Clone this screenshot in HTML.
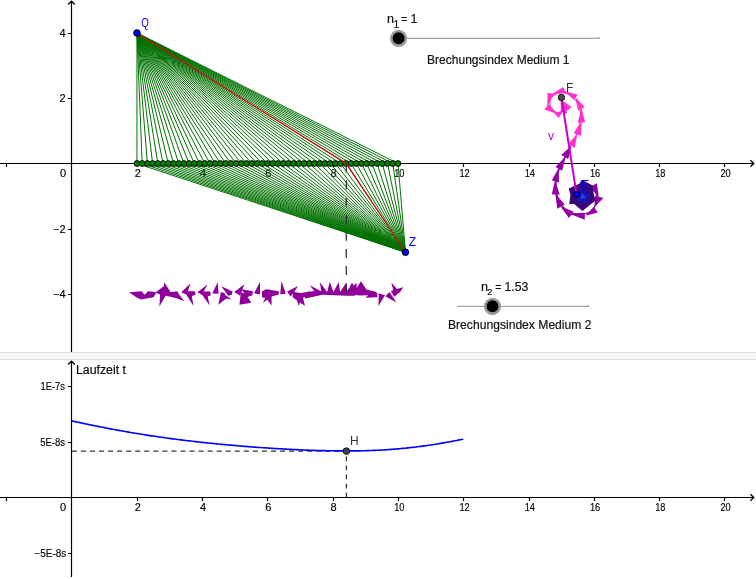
<!DOCTYPE html>
<html><head><meta charset="utf-8"><style>
html,body{margin:0;padding:0;background:#fff;width:756px;height:579px;overflow:hidden}
svg{display:block;will-change:transform}
</style></head><body>
<svg width="756" height="579" viewBox="0 0 756 579">
<g stroke="#000" fill="none" stroke-width="1.2">
<path d="M0 163.5 H753.2"/>
<path d="M750.4 160.2 L753.7 163.5 L750.4 166.8" stroke-width="1.35"/>
<path d="M71.5 1.5 V352"/>
<path d="M68.2 4.6 L71.5 1.3 L74.8 4.6" stroke-width="1.35"/>
<path d="M6.5 163.5 V167M137.5 163.5 V167M202.5 163.5 V167M267.5 163.5 V167M333.5 163.5 V167M398.5 163.5 V167M463.5 163.5 V167M529.5 163.5 V167M594.5 163.5 V167M659.5 163.5 V167M724.5 163.5 V167M68 33.5 H71.5M68 98.5 H71.5M68 229.5 H71.5M68 294.5 H71.5"/>
</g>
<g font-family='"Liberation Sans", sans-serif' font-size="11" fill="#000" stroke="#000" stroke-width="0.15" text-anchor="middle">
<text x="137.76" y="177">2</text>
<text x="203.02" y="177">4</text>
<text x="268.28" y="177">6</text>
<text x="333.54" y="177">8</text>
<text x="399.3" y="177" textLength="10.3" lengthAdjust="spacingAndGlyphs">10</text>
<text x="464.56" y="177" textLength="10.3" lengthAdjust="spacingAndGlyphs">12</text>
<text x="529.82" y="177" textLength="10.3" lengthAdjust="spacingAndGlyphs">14</text>
<text x="595.08" y="177" textLength="10.3" lengthAdjust="spacingAndGlyphs">16</text>
<text x="660.34" y="177" textLength="10.3" lengthAdjust="spacingAndGlyphs">18</text>
<text x="725.6" y="177" textLength="10.3" lengthAdjust="spacingAndGlyphs">20</text>
<text x="63" y="177">0</text>
</g>
<g font-family='"Liberation Sans", sans-serif' font-size="11" fill="#000" stroke="#000" stroke-width="0.15" text-anchor="end">
<text x="65.5" y="36.98">4</text>
<text x="65.5" y="102.24">2</text>
<text x="65.5" y="232.76">−2</text>
<text x="65.5" y="298.02">−4</text>
</g>
<path d="M136.96 32.98L136.96 163.5M136.96 163.5L405.5 252.25M136.96 32.98L142.18 163.5M142.18 163.5L405.5 252.25M136.96 32.98L147.4 163.5M147.4 163.5L405.5 252.25M136.96 32.98L152.62 163.5M152.62 163.5L405.5 252.25M136.96 32.98L157.84 163.5M157.84 163.5L405.5 252.25M136.96 32.98L163.06 163.5M163.06 163.5L405.5 252.25M136.96 32.98L168.28 163.5M168.28 163.5L405.5 252.25M136.96 32.98L173.51 163.5M173.51 163.5L405.5 252.25M136.96 32.98L178.73 163.5M178.73 163.5L405.5 252.25M136.96 32.98L183.95 163.5M183.95 163.5L405.5 252.25M136.96 32.98L189.17 163.5M189.17 163.5L405.5 252.25M136.96 32.98L194.39 163.5M194.39 163.5L405.5 252.25M136.96 32.98L199.61 163.5M199.61 163.5L405.5 252.25M136.96 32.98L204.83 163.5M204.83 163.5L405.5 252.25M136.96 32.98L210.05 163.5M210.05 163.5L405.5 252.25M136.96 32.98L215.27 163.5M215.27 163.5L405.5 252.25M136.96 32.98L220.49 163.5M220.49 163.5L405.5 252.25M136.96 32.98L225.71 163.5M225.71 163.5L405.5 252.25M136.96 32.98L230.93 163.5M230.93 163.5L405.5 252.25M136.96 32.98L236.16 163.5M236.16 163.5L405.5 252.25M136.96 32.98L241.38 163.5M241.38 163.5L405.5 252.25M136.96 32.98L246.6 163.5M246.6 163.5L405.5 252.25M136.96 32.98L251.82 163.5M251.82 163.5L405.5 252.25M136.96 32.98L257.04 163.5M257.04 163.5L405.5 252.25M136.96 32.98L262.26 163.5M262.26 163.5L405.5 252.25M136.96 32.98L267.48 163.5M267.48 163.5L405.5 252.25M136.96 32.98L272.7 163.5M272.7 163.5L405.5 252.25M136.96 32.98L277.92 163.5M277.92 163.5L405.5 252.25M136.96 32.98L283.14 163.5M283.14 163.5L405.5 252.25M136.96 32.98L288.36 163.5M288.36 163.5L405.5 252.25M136.96 32.98L293.58 163.5M293.58 163.5L405.5 252.25M136.96 32.98L298.8 163.5M298.8 163.5L405.5 252.25M136.96 32.98L304.03 163.5M304.03 163.5L405.5 252.25M136.96 32.98L309.25 163.5M309.25 163.5L405.5 252.25M136.96 32.98L314.47 163.5M314.47 163.5L405.5 252.25M136.96 32.98L319.69 163.5M319.69 163.5L405.5 252.25M136.96 32.98L324.91 163.5M324.91 163.5L405.5 252.25M136.96 32.98L330.13 163.5M330.13 163.5L405.5 252.25M136.96 32.98L335.35 163.5M335.35 163.5L405.5 252.25M136.96 32.98L340.57 163.5M340.57 163.5L405.5 252.25M136.96 32.98L345.79 163.5M345.79 163.5L405.5 252.25M136.96 32.98L351.01 163.5M351.01 163.5L405.5 252.25M136.96 32.98L356.23 163.5M356.23 163.5L405.5 252.25M136.96 32.98L361.45 163.5M361.45 163.5L405.5 252.25M136.96 32.98L366.68 163.5M366.68 163.5L405.5 252.25M136.96 32.98L371.9 163.5M371.9 163.5L405.5 252.25M136.96 32.98L377.12 163.5M377.12 163.5L405.5 252.25M136.96 32.98L382.34 163.5M382.34 163.5L405.5 252.25M136.96 32.98L387.56 163.5M387.56 163.5L405.5 252.25M136.96 32.98L392.78 163.5M392.78 163.5L405.5 252.25M136.96 32.98L398 163.5M398 163.5L405.5 252.25" stroke="#007000" stroke-width="1" fill="none"/>
<g fill="#008000" stroke="#000" stroke-width="0.9"><circle cx="136.96" cy="163.5" r="2.9"/><circle cx="142.18" cy="163.5" r="2.9"/><circle cx="147.4" cy="163.5" r="2.9"/><circle cx="152.62" cy="163.5" r="2.9"/><circle cx="157.84" cy="163.5" r="2.9"/><circle cx="163.06" cy="163.5" r="2.9"/><circle cx="168.28" cy="163.5" r="2.9"/><circle cx="173.51" cy="163.5" r="2.9"/><circle cx="178.73" cy="163.5" r="2.9"/><circle cx="183.95" cy="163.5" r="2.9"/><circle cx="189.17" cy="163.5" r="2.9"/><circle cx="194.39" cy="163.5" r="2.9"/><circle cx="199.61" cy="163.5" r="2.9"/><circle cx="204.83" cy="163.5" r="2.9"/><circle cx="210.05" cy="163.5" r="2.9"/><circle cx="215.27" cy="163.5" r="2.9"/><circle cx="220.49" cy="163.5" r="2.9"/><circle cx="225.71" cy="163.5" r="2.9"/><circle cx="230.93" cy="163.5" r="2.9"/><circle cx="236.16" cy="163.5" r="2.9"/><circle cx="241.38" cy="163.5" r="2.9"/><circle cx="246.6" cy="163.5" r="2.9"/><circle cx="251.82" cy="163.5" r="2.9"/><circle cx="257.04" cy="163.5" r="2.9"/><circle cx="262.26" cy="163.5" r="2.9"/><circle cx="267.48" cy="163.5" r="2.9"/><circle cx="272.7" cy="163.5" r="2.9"/><circle cx="277.92" cy="163.5" r="2.9"/><circle cx="283.14" cy="163.5" r="2.9"/><circle cx="288.36" cy="163.5" r="2.9"/><circle cx="293.58" cy="163.5" r="2.9"/><circle cx="298.8" cy="163.5" r="2.9"/><circle cx="304.03" cy="163.5" r="2.9"/><circle cx="309.25" cy="163.5" r="2.9"/><circle cx="314.47" cy="163.5" r="2.9"/><circle cx="319.69" cy="163.5" r="2.9"/><circle cx="324.91" cy="163.5" r="2.9"/><circle cx="330.13" cy="163.5" r="2.9"/><circle cx="335.35" cy="163.5" r="2.9"/><circle cx="340.57" cy="163.5" r="2.9"/><circle cx="345.79" cy="163.5" r="2.9"/><circle cx="351.01" cy="163.5" r="2.9"/><circle cx="356.23" cy="163.5" r="2.9"/><circle cx="361.45" cy="163.5" r="2.9"/><circle cx="366.68" cy="163.5" r="2.9"/><circle cx="371.9" cy="163.5" r="2.9"/><circle cx="377.12" cy="163.5" r="2.9"/><circle cx="382.34" cy="163.5" r="2.9"/><circle cx="387.56" cy="163.5" r="2.9"/><circle cx="392.78" cy="163.5" r="2.9"/><circle cx="398" cy="163.5" r="2.9"/></g>
<path d="M136.96 32.98 L346.35 163.5 L405.5 252.25" stroke="#d01010" stroke-width="1.25" fill="none"/>
<circle cx="136.96" cy="32.98" r="3.3" fill="#0000ff" stroke="#000" stroke-width="1"/>
<circle cx="405.5" cy="252.25" r="3.3" fill="#0000ff" stroke="#000" stroke-width="1"/>
<g font-family='"Liberation Sans", sans-serif' font-size="12" fill="#0000ff">
<text x="141.3" y="26.6" textLength="7.6" lengthAdjust="spacingAndGlyphs">Q</text>
<text x="408.8" y="245.8">Z</text>
</g>
<g fill="#8f009b"><polygon points="128.97,292.22 142.2,291.23 142.99,293.08 144.84,294.87 146.83,292.22 147.82,291.23 155.42,291.89 156.08,293.21 153.44,297.18 140.87,299.49 136.24,297.18"/><polygon points="164.35,282.3 170.63,292.22 175,291.89 175,297.84 165.67,295.86 159.39,306.44 160.05,294.53 155.42,292.55 164.02,285.94"/><polygon points="170,292.22 177.28,291.23 179.26,294.53 184.22,301.15 170,295.86"/><polygon points="190.5,283.29 187.86,291.23 194.8,291.23 195.79,294.53 191.83,296.19 193.48,306.11 186.2,294.53 181.24,292.22"/><polygon points="207.7,284.28 203.73,291.56 210.34,291.56 210.67,295.53 207.7,296.52 209.68,305.45 202.41,295.2 197.45,292.22"/><polygon points="217.62,282.3 218.61,293.87 212.33,293.54"/><polygon points="221.28,286.27 232.53,291.56 231.87,294.87 228.23,295.86"/><polygon points="218.31,304.79 220.95,291.89 224.26,292.88 225.58,295.2 231.87,299.49 226.24,298.5"/><polygon points="244.43,284.28 234.18,291.89 240.13,295.86"/><polygon points="241.46,289.24 253.03,291.23 252.37,295.2 246.75,297.18"/><polygon points="239.47,304.79 240.79,292.55 245.42,293.87 251.38,302.8"/><polygon points="259.97,281.97 254.02,293.21 259.97,294.53"/><polygon points="262.29,291.23 265,290.9 265,297.18 262.62,297.18"/><polygon points="261.98,291.23 266.28,289.24 278.85,291.23 278.85,294.53 271.57,296.52 271.57,305.45 267.28,299.83 262.98,302.8 265.29,297.84 261.98,297.18"/><polygon points="281.49,280.98 285.79,293.87 280.17,294.2"/><polygon points="298.03,285.94 287.12,291.56 290.42,296.52 293.07,293.87"/><polygon points="293.07,291.89 301.01,292.88 310,291.56 310,295.86 302.99,297.84 304.97,305.78 299.68,302.47 299.02,306.44 297.04,300.49 292.74,297.18"/><polygon points="305,292.22 314.26,290.9 309.63,285.28 321.2,291.23 319.88,282.3 327.16,291.89 329.8,281.64 333.44,291.89 338.73,281.97 340.05,291.89 346.01,282.96 346.67,291.23 352.62,283.29 355,287.92 355,295.86 346.01,295.86 340.71,295.53 322.2,294.87 313.6,296.85 305,298.5"/><polygon points="350,285.94 351.98,282.63 352.98,286.6 356.61,282.63 356.61,287.92 360.91,281.31 366.53,289.57 373.15,291.23 375.13,291.56 377.45,293.54 377.45,297.18 365.21,297.84 368.19,295.2 359.92,295.53 350,294.53"/><polygon points="378.77,293.21 385.05,295.2 378.44,306.11"/><polygon points="385.29,296.16 389.52,291.93 396.4,302.51"/><polygon points="391.38,282.41 396.93,289.02 403.28,287.17 400.11,291.93 394.29,296.69 390.85,291.14 393.23,290.34"/></g>
<path d="M346.3 163.5 V294" stroke="#333" stroke-width="1.3" stroke-dasharray="8.9 8.2" fill="none"/>
<path d="M564.7 107.4 L558.8 113.9 L550.1 109.2 L549.7 97.7 L560.4 91.5 L571.9 95.2 L579.3 104.9 L581.4 117.5 L578.8 129.9 L573.6 141.6 L569.5 148" stroke="#ff33cc" stroke-width="1.2" fill="none" stroke-linejoin="round"/>
<g fill="#ff33cc"><polygon points="551.68,94.37 563.28,86.91 566.18,93.13"/><polygon points="547.6,92.72 554.23,93.96 547.18,106.39"/><polygon points="544.19,109.48 548.75,104.09 557.46,114.04"/><polygon points="554.07,113.09 563.6,110.61 558.63,118.07"/><polygon points="560.76,99.49 571.54,106.95 565.73,111.92 560.76,111.09"/><polygon points="563.85,91.04 577.94,94.77 573.79,99.74"/><polygon points="575.2,96.98 584.73,106.93 578.1,110.66"/><polygon points="577.69,122.63 581.42,107.71 585.15,122.22"/><polygon points="573.67,133.36 581.55,120.51 581.13,135.84"/><polygon points="568.49,143.86 577.61,133.08 574.71,148"/></g>
<path d="M569.5 148 L567 153.2 L561.1 164.6 L556.5 176.9 L555.5 189.6 L559.1 202.2 L567.6 211.9 L579.5 215.3 L592.3 211.6 L597.6 200.3 L595.2 189.4" stroke="#9400a4" stroke-width="1.2" fill="none" stroke-linejoin="round"/>
<g fill="#9400a4"><polygon points="561.51,154.82 571.46,145.7 568.15,158.96"/><polygon points="561.4,154.97 570.52,149.17 568.03,158.29"/><polygon points="555.45,166.97 565.82,156.19 562.09,170.7"/><polygon points="551.82,180.26 558.86,167.82 558.86,182.75"/><polygon points="551.8,194.25 555.11,179.75 559.67,194.67"/><polygon points="555.23,193.38 564.76,204.57 557.3,208.72"/><polygon points="560.16,205.95 573.83,211.76 568.86,217.97"/><polygon points="568.98,213.55 584.73,212.72 584.73,219.77"/><polygon points="589.83,187.04 596.87,183.31 598.95,197.82"/><polygon points="595.15,195.63 603.44,198.12 594.32,207.24"/><polygon points="585.43,215.68 593.72,206.65 597.86,212.45"/></g>
<polygon points="568.7,188.6 579.7,183.5 581.7,179.8 592.8,185.4 593.5,193 595.6,200.6 589.3,205.4 582.4,210.9 574.1,204 569.3,204.2 570.4,194.5" fill="#3a0876"/>
<polygon points="577.6,190.89 585.2,189.85 590.03,195.03 587.96,202.63 577.6,201.94" fill="#1414b0"/>
<polygon points="580.02,198.83 582.44,192.96 586.23,198.49" fill="#2f3fd4"/>
<path d="M561.4 97.5 L576.6 194.5" stroke="#cc00cc" stroke-width="2" fill="none"/>
<polygon points="562.76,110.03 567.6,112.45 564.15,113.49" fill="#cc00cc"/>
<text x="548" y="139.5" font-family='"Liberation Sans", sans-serif' font-size="12" fill="#cc00cc">v</text>
<circle cx="561.4" cy="97.5" r="3.2" fill="#4d4d4d" stroke="#111" stroke-width="1"/>
<text x="566" y="91.5" font-family='"Liberation Sans", sans-serif' font-size="12" fill="#333">F</text>
<circle cx="576.6" cy="194.5" r="3" fill="#0000ff" stroke="#000" stroke-width="1"/>
<text x="581.2" y="188.6" font-family='"Liberation Sans", sans-serif' font-size="12" fill="#0000ff">E</text>
<path d="M398.6 38.3 H599.7" stroke="#8c8c8c" stroke-width="1" fill="none"/>
<path d="M599.7 38.3 l-1.3 -1.4" stroke="#8c8c8c" stroke-width="1" fill="none"/>
<circle cx="398.6" cy="38.3" r="7.3" fill="#000" stroke="#9a9a9a" stroke-width="2.6"/>
<text x="387" y="22.9" font-family='"Liberation Sans", sans-serif' font-size="12.6" fill="#111" stroke="#111" stroke-width="0.2">n</text>
<text x="393.6" y="27.6" font-family='"Liberation Sans", sans-serif' font-size="10.3" fill="#111" stroke="#111" stroke-width="0.2">1</text>
<text x="401.3" y="22.9" font-family='"Liberation Sans", sans-serif' font-size="12.6" fill="#111" stroke="#111" stroke-width="0.2" textLength="6.2" lengthAdjust="spacingAndGlyphs">=</text>
<text x="410.6" y="22.9" font-family='"Liberation Sans", sans-serif' font-size="12.6" fill="#111" stroke="#111" stroke-width="0.2">1</text>
<text x="427" y="63.8" font-family='"Liberation Sans", sans-serif' font-size="12.6" fill="#111" stroke="#111" stroke-width="0.2" textLength="142.5" lengthAdjust="spacingAndGlyphs">Brechungsindex Medium 1</text>
<path d="M456.9 306.3 H589.2" stroke="#8c8c8c" stroke-width="1" fill="none"/>
<path d="M589.2 306.3 l-1.3 -1.4" stroke="#8c8c8c" stroke-width="1" fill="none"/>
<circle cx="492.5" cy="306.3" r="7.3" fill="#000" stroke="#9a9a9a" stroke-width="2.6"/>
<text x="481" y="290.8" font-family='"Liberation Sans", sans-serif' font-size="12.6" fill="#111" stroke="#111" stroke-width="0.2">n</text>
<text x="487.2" y="295.4" font-family='"Liberation Sans", sans-serif' font-size="9.2" fill="#111" stroke="#111" stroke-width="0.2">2</text>
<text x="495.3" y="290.8" font-family='"Liberation Sans", sans-serif' font-size="12.6" fill="#111" stroke="#111" stroke-width="0.2" textLength="6.2" lengthAdjust="spacingAndGlyphs">=</text>
<text x="504.5" y="290.8" font-family='"Liberation Sans", sans-serif' font-size="12.6" fill="#111" stroke="#111" stroke-width="0.2" textLength="23.8" lengthAdjust="spacingAndGlyphs">1.53</text>
<text x="448" y="329" font-family='"Liberation Sans", sans-serif' font-size="12.6" fill="#111" stroke="#111" stroke-width="0.2" textLength="143.5" lengthAdjust="spacingAndGlyphs">Brechungsindex Medium 2</text>
<rect x="0" y="352" width="756" height="8" fill="#f7f7f7"/>
<rect x="0" y="352" width="756" height="1" fill="#dedede"/>
<rect x="0" y="359" width="756" height="1" fill="#dedede"/>
<g stroke="#000" fill="none" stroke-width="1.2">
<path d="M0 497.5 H753.2"/>
<path d="M750.4 494.2 L753.7 497.5 L750.4 500.8" stroke-width="1.35"/>
<path d="M71.5 361.5 V577"/>
<path d="M68.2 364.6 L71.5 361.3 L74.8 364.6" stroke-width="1.35"/>
<path d="M6.5 497.5 V501M137.5 497.5 V501M202.5 497.5 V501M267.5 497.5 V501M333.5 497.5 V501M398.5 497.5 V501M463.5 497.5 V501M529.5 497.5 V501M594.5 497.5 V501M659.5 497.5 V501M724.5 497.5 V501M68 386.5 H71.5M68 442.5 H71.5M68 553.5 H71.5"/>
</g>
<g font-family='"Liberation Sans", sans-serif' font-size="11" fill="#000" stroke="#000" stroke-width="0.15" text-anchor="middle">
<text x="137.76" y="511">2</text>
<text x="203.02" y="511">4</text>
<text x="268.28" y="511">6</text>
<text x="333.54" y="511">8</text>
<text x="399.3" y="511" textLength="10.3" lengthAdjust="spacingAndGlyphs">10</text>
<text x="464.56" y="511" textLength="10.3" lengthAdjust="spacingAndGlyphs">12</text>
<text x="529.82" y="511" textLength="10.3" lengthAdjust="spacingAndGlyphs">14</text>
<text x="595.08" y="511" textLength="10.3" lengthAdjust="spacingAndGlyphs">16</text>
<text x="660.34" y="511" textLength="10.3" lengthAdjust="spacingAndGlyphs">18</text>
<text x="725.6" y="511" textLength="10.3" lengthAdjust="spacingAndGlyphs">20</text>
<text x="63" y="511">0</text>
</g>
<g font-family='"Liberation Sans", sans-serif' font-size="11" fill="#000" stroke="#000" stroke-width="0.15" text-anchor="end">
<text x="65" y="390" textLength="24.5" lengthAdjust="spacingAndGlyphs">1E-7s</text>
<text x="65" y="445.9" textLength="24.8" lengthAdjust="spacingAndGlyphs">5E-8s</text>
<text x="66.3" y="557" textLength="32" lengthAdjust="spacingAndGlyphs">−5E-8s</text>
</g>
<text x="76" y="374" font-family='"Liberation Sans", sans-serif' font-size="12.3" fill="#000" stroke="#000" stroke-width="0.15">Laufzeit t</text>
<path d="M71.9 451.1 H346.4" stroke="#333" stroke-width="1.3" stroke-dasharray="5 4.05" fill="none"/>
<path d="M346.4 497.5 V451.1" stroke="#333" stroke-width="1.3" stroke-dasharray="4.8 4.27" fill="none"/>
<path d="M71.7 420.89 L73.33 421.25 L74.96 421.6 L76.59 421.95 L78.23 422.3 L79.86 422.65 L81.49 423 L83.12 423.35 L84.75 423.69 L86.38 424.03 L88.02 424.37 L89.65 424.71 L91.28 425.04 L92.91 425.37 L94.54 425.71 L96.17 426.03 L97.8 426.36 L99.44 426.69 L101.07 427.01 L102.7 427.33 L104.33 427.65 L105.96 427.96 L107.59 428.28 L109.22 428.59 L110.86 428.9 L112.49 429.2 L114.12 429.51 L115.75 429.81 L117.38 430.11 L119.01 430.41 L120.65 430.7 L122.28 430.99 L123.91 431.28 L125.54 431.57 L127.17 431.86 L128.8 432.14 L130.43 432.42 L132.07 432.7 L133.7 432.97 L135.33 433.25 L136.96 433.52 L138.59 433.78 L140.22 434.05 L141.85 434.31 L143.49 434.57 L145.12 434.83 L146.75 435.09 L148.38 435.34 L150.01 435.59 L151.64 435.84 L153.28 436.08 L154.91 436.33 L156.54 436.57 L158.17 436.81 L159.8 437.04 L161.43 437.28 L163.06 437.51 L164.7 437.74 L166.33 437.96 L167.96 438.19 L169.59 438.41 L171.22 438.63 L172.85 438.84 L174.48 439.06 L176.12 439.27 L177.75 439.48 L179.38 439.69 L181.01 439.9 L182.64 440.1 L184.27 440.3 L185.91 440.5 L187.54 440.7 L189.17 440.89 L190.8 441.08 L192.43 441.27 L194.06 441.46 L195.69 441.65 L197.33 441.83 L198.96 442.01 L200.59 442.19 L202.22 442.37 L203.85 442.55 L205.48 442.72 L207.11 442.89 L208.75 443.06 L210.38 443.23 L212.01 443.4 L213.64 443.56 L215.27 443.72 L216.9 443.89 L218.54 444.04 L220.17 444.2 L221.8 444.36 L223.43 444.51 L225.06 444.66 L226.69 444.81 L228.32 444.96 L229.96 445.11 L231.59 445.25 L233.22 445.39 L234.85 445.53 L236.48 445.67 L238.11 445.81 L239.74 445.95 L241.38 446.08 L243.01 446.22 L244.64 446.35 L246.27 446.48 L247.9 446.6 L249.53 446.73 L251.17 446.85 L252.8 446.98 L254.43 447.1 L256.06 447.22 L257.69 447.34 L259.32 447.45 L260.95 447.57 L262.59 447.68 L264.22 447.79 L265.85 447.9 L267.48 448.01 L269.11 448.12 L270.74 448.22 L272.37 448.33 L274.01 448.43 L275.64 448.53 L277.27 448.63 L278.9 448.72 L280.53 448.82 L282.16 448.91 L283.8 449 L285.43 449.09 L287.06 449.18 L288.69 449.27 L290.32 449.35 L291.95 449.43 L293.58 449.51 L295.22 449.59 L296.85 449.67 L298.48 449.74 L300.11 449.82 L301.74 449.89 L303.37 449.96 L305 450.03 L306.64 450.09 L308.27 450.15 L309.9 450.21 L311.53 450.27 L313.16 450.33 L314.79 450.38 L316.43 450.44 L318.06 450.49 L319.69 450.53 L321.32 450.58 L322.95 450.62 L324.58 450.66 L326.21 450.7 L327.85 450.73 L329.48 450.77 L331.11 450.8 L332.74 450.82 L334.37 450.85 L336 450.87 L337.63 450.89 L339.27 450.9 L340.9 450.92 L342.53 450.92 L344.16 450.93 L345.79 450.93 L347.42 450.93 L349.06 450.93 L350.69 450.92 L352.32 450.91 L353.95 450.9 L355.58 450.88 L357.21 450.86 L358.84 450.83 L360.48 450.8 L362.11 450.77 L363.74 450.73 L365.37 450.69 L367 450.64 L368.63 450.59 L370.26 450.53 L371.9 450.48 L373.53 450.41 L375.16 450.34 L376.79 450.27 L378.42 450.19 L380.05 450.11 L381.69 450.02 L383.32 449.93 L384.95 449.83 L386.58 449.73 L388.21 449.62 L389.84 449.51 L391.47 449.39 L393.11 449.27 L394.74 449.14 L396.37 449.01 L398 448.87 L399.63 448.72 L401.26 448.57 L402.89 448.42 L404.53 448.26 L406.16 448.09 L407.79 447.92 L409.42 447.74 L411.05 447.56 L412.68 447.37 L414.31 447.18 L415.95 446.98 L417.58 446.78 L419.21 446.57 L420.84 446.35 L422.47 446.13 L424.1 445.91 L425.74 445.68 L427.37 445.45 L429 445.21 L430.63 444.96 L432.26 444.71 L433.89 444.46 L435.52 444.2 L437.16 443.94 L438.79 443.67 L440.42 443.4 L442.05 443.12 L443.68 442.84 L445.31 442.56 L446.94 442.27 L448.58 441.98 L450.21 441.68 L451.84 441.38 L453.47 441.07 L455.1 440.77 L456.73 440.45 L458.37 440.14 L460 439.82 L461.63 439.5 L463.26 439.17" stroke="#0000ff" stroke-width="1.6" fill="none"/>
<circle cx="346.4" cy="451.1" r="3.3" fill="#444" stroke="#111" stroke-width="1"/>
<text x="350" y="445" font-family='"Liberation Sans", sans-serif' font-size="12" fill="#333">H</text>
</svg>
</body></html>
